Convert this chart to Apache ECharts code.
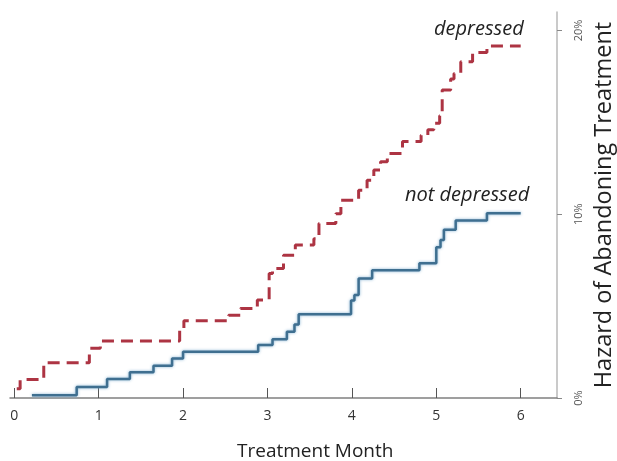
<!DOCTYPE html>
<html>
<head>
<meta charset="utf-8">
<script src="https://cdn.jsdelivr.net/npm/echarts@6/dist/echarts.min.js"></script>
<style>html,body{margin:0;padding:0;background:#fff}#c{width:617px;height:461px}</style>
</head>
<body>
<div id="c"></div>
<script>
// Treatment month at which each step occurs, and hazard (%) after the step
const depressedMonths = [0.03, 0.07, 0.35, 0.89, 1.02, 1.96, 2.01, 2.54, 2.68, 2.88, 3.02, 3.06, 3.19, 3.33, 3.55, 3.61, 3.81, 3.87, 4.08, 4.18, 4.26, 4.34, 4.42, 4.6, 4.82, 4.9, 4.97, 5.04, 5.07, 5.17, 5.21, 5.29, 5.43, 5.6, 6.0];
const depressedHazard = [0.5, 1.0, 1.92, 2.7, 3.1, 3.7, 4.2, 4.5, 4.87, 5.33, 6.78, 7.05, 7.77, 8.33, 8.67, 9.5, 10.03, 10.76, 11.3, 11.85, 12.4, 12.85, 13.3, 13.95, 14.3, 14.6, 14.95, 15.35, 16.75, 17.35, 17.65, 18.3, 18.8, 19.15, 19.15];
const notDepressedMonths = [0.21, 0.74, 1.10, 1.37, 1.65, 1.87, 2.0, 2.89, 3.06, 3.23, 3.32, 3.37, 3.99, 4.03, 4.08, 4.24, 4.8, 5.0, 5.05, 5.09, 5.23, 5.6, 6.0];
const notDepressedHazard = [0.15, 0.6, 1.03, 1.4, 1.76, 2.15, 2.52, 2.88, 3.2, 3.6, 4.0, 4.55, 5.3, 5.6, 6.5, 6.95, 7.33, 8.2, 8.6, 9.15, 9.65, 10.05, 10.05];
const xTicks = [0, 1, 2, 3, 4, 5, 6];
const yTicks = [0, 10, 20];
const seriesNames = ['depressed', 'not depressed'];
const xTitle = 'Treatment Month';
const yTitle = 'Hazard of Abandoning Treatment';

const zip = (a, b) => a.map((v, i) => [v, b[i]]);
const font = '"Open Sans", "Noto Sans", sans-serif';

const chart = echarts.init(document.getElementById('c'), null, {renderer: 'canvas'});
chart.setOption({
  animation: false,
  backgroundColor: '#fff',
  grid: {left: 10, right: 60, top: 12, bottom: 63, containLabel: false, outerBoundsMode: 'none'},
  xAxis: {
    type: 'value', min: -0.05, max: 6.43,
    axisLine: {show: true, onZero: false, lineStyle: {color: '#808080', width: 1.5}},
    axisTick: {show: true, inside: true, length: 10, customValues: xTicks, lineStyle: {color: '#555', width: 1}},
    axisLabel: {customValues: xTicks, color: '#333', fontSize: 14, fontFamily: font, margin: 11},
    splitLine: {show: false}
  },
  yAxis: {
    type: 'value', position: 'right', min: 0, max: 21,
    name: yTitle, nameLocation: 'middle', nameRotate: 90, nameGap: 35,
    nameTextStyle: {fontSize: 23.5, color: '#222', fontFamily: font},
    axisLine: {show: true, onZero: false, lineStyle: {color: '#b8b8b8', width: 1.5}},
    axisTick: {show: true, length: 5, customValues: yTicks, lineStyle: {color: '#888', width: 1}},
    axisLabel: {customValues: yTicks, rotate: 90, formatter: v => v + '%', color: '#555', fontSize: 11, fontFamily: font, margin: 16},
    splitLine: {show: false}
  },
  series: [
    {
      name: seriesNames[0], type: 'line', step: 'end', symbol: 'none',
      data: zip(depressedMonths, depressedHazard),
      lineStyle: {color: '#ad3443', width: 3, type: [12, 7]}
    },
    {
      name: seriesNames[1], type: 'line', step: 'end', symbol: 'none',
      data: zip(notDepressedMonths, notDepressedHazard),
      lineStyle: {color: '#3f6f90', width: 2.5, shadowColor: 'rgba(120,170,205,0.9)', shadowBlur: 3}
    }
  ],
  graphic: [
    {type: 'text', left: 434, top: 19, style: {text: seriesNames[0], fontSize: 20, fontStyle: 'italic', fill: '#222', fontFamily: font}},
    {type: 'text', left: 405, top: 185, style: {text: seriesNames[1], fontSize: 20, fontStyle: 'italic', fill: '#222', fontFamily: font}},
    {type: 'text', left: 237, top: 442, style: {text: xTitle, fontSize: 19, fill: '#222', fontFamily: font}}
  ]
});
</script>
</body>
</html>
